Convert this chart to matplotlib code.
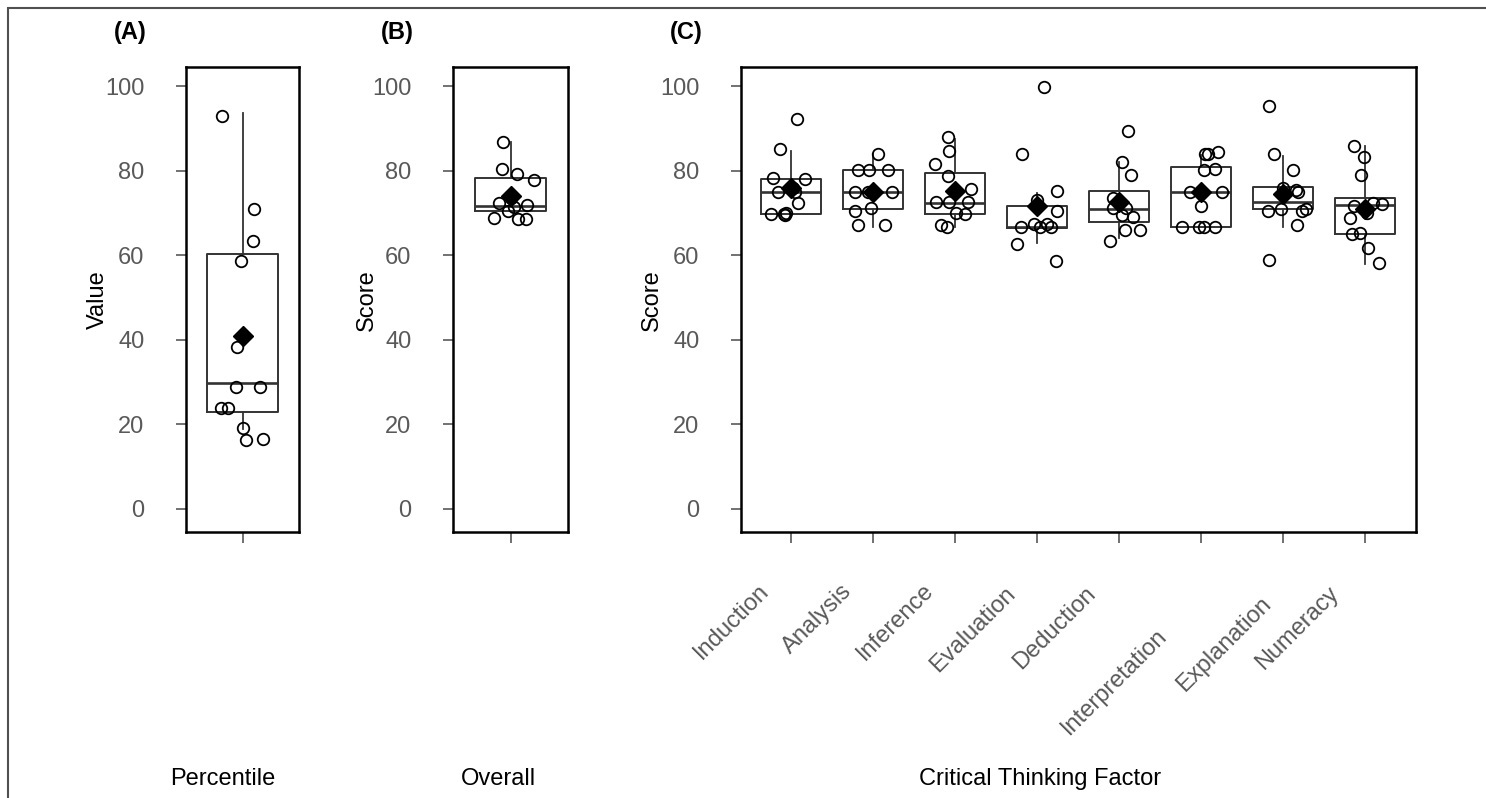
import matplotlib
matplotlib.use("Agg")
import matplotlib.pyplot as plt
from matplotlib.patches import Rectangle
from matplotlib.transforms import ScaledTranslation

plt.rcParams['font.family'] = ['Liberation Sans', 'DejaVu Sans']

# ---------------- data ----------------
# Panel A: Percentile
pct_vals = [92.9, 71.0, 63.4, 58.6, 38.4, 28.9, 28.9, 23.9, 23.9, 19.2, 16.2, 16.6]
pct_jit = [-0.29, 0.16, 0.15, -0.02, -0.08, -0.09, 0.25, -0.31, -0.21, 0.0, 0.05, 0.29]
pct_box = dict(q1=23.0, med=29.7, q3=60.4, whislo=19.0, whishi=93.7, mean=40.8)

# Panel B: Overall
ovr_vals = [86.9, 80.5, 79.2, 77.9, 72.4, 72.0, 70.5, 68.9, 68.7, 68.7, 73.5, 71.5]
ovr_jit = [-0.11, -0.12, 0.09, 0.32, -0.16, 0.23, -0.04, -0.23, 0.11, 0.21, 0.0, 0.05]
ovr_box = dict(q1=70.5, med=71.8, q3=78.4, whislo=70.5, whishi=86.9, mean=74.0)

# Panel C: Critical thinking factors
factors = ["Induction", "Analysis", "Inference", "Evaluation", "Deduction",
           "Interpretation", "Explanation", "Numeracy"]
fac_q1 = [69.9, 71.0, 69.8, 66.5, 67.9, 66.7, 70.9, 65.1]
fac_med = [74.9, 74.9, 72.5, 66.8, 70.9, 74.9, 72.6, 72.0]
fac_q3 = [78.0, 80.2, 79.6, 71.8, 75.3, 80.9, 76.2, 73.7]
fac_whislo = [69.9, 66.8, 66.8, 63.0, 64.1, 66.7, 66.8, 58.0]
fac_whishi = [84.7, 84.0, 87.5, 74.7, 82.2, 83.8, 83.6, 86.0]
fac_mean = [75.9, 75.0, 75.3, 71.6, 72.7, 75.1, 74.6, 71.0]

induction = [92.4, 85.1, 78.3, 78.0, 74.9, 72.5, 69.8, 69.8, 70.0, 76.0, 75.0, 69.5]
induction_jit = [0.07, -0.13, -0.22, 0.17, -0.16, 0.08, -0.25, -0.09, -0.06, 0.02, 0.05, -0.07]
analysis = [84.0, 80.2, 80.2, 80.2, 74.9, 74.9, 74.9, 70.6, 71.2, 67.3, 67.3, 75.0]
analysis_jit = [0.06, -0.18, -0.05, 0.18, -0.22, -0.06, 0.23, -0.22, -0.02, -0.18, 0.15, 0.0]
inference = [88.1, 84.8, 81.7, 78.7, 75.7, 72.7, 72.7, 72.7, 70.1, 69.8, 67.3, 66.8]
inference_jit = [-0.09, -0.08, -0.24, -0.09, 0.20, -0.23, -0.08, 0.16, 0.01, 0.12, -0.17, -0.10]
evaluation = [99.8, 84.0, 75.3, 70.6, 66.8, 67.4, 66.8, 67.4, 66.8, 62.6, 58.6, 73.0]
evaluation_jit = [0.09, -0.18, 0.24, 0.24, -0.20, -0.04, 0.03, 0.12, 0.17, -0.24, 0.23, 0.0]
deduction = [89.4, 82.2, 79.1, 73.7, 71.2, 71.2, 69.2, 65.9, 65.9, 63.3, 72.5, 69.5]
deduction_jit = [0.11, 0.03, 0.15, -0.08, -0.08, 0.09, 0.17, 0.07, 0.25, -0.11, 0.0, 0.03]
interpretation = [84.0, 84.0, 84.4, 80.2, 80.5, 74.9, 74.9, 71.6, 66.8, 66.8, 66.8, 66.8]
interpretation_jit = [0.05, 0.08, 0.21, 0.03, 0.17, -0.13, 0.26, 0.0, -0.23, -0.02, 0.04, 0.17]
explanation = [95.4, 84.0, 80.1, 75.4, 74.9, 70.6, 71.0, 70.6, 71.0, 67.3, 58.9, 76.0]
explanation_jit = [-0.17, -0.11, 0.12, 0.16, 0.18, -0.19, -0.02, 0.23, 0.28, 0.17, -0.17, 0.0]
numeracy = [85.8, 83.4, 79.1, 71.8, 72.4, 72.2, 68.8, 65.1, 65.4, 61.7, 58.3, 70.0]
numeracy_jit = [-0.14, -0.02, -0.05, -0.13, 0.10, 0.20, -0.18, -0.16, -0.06, 0.04, 0.17, 0.02]

fac_vals = [induction, analysis, inference, evaluation, deduction,
            interpretation, explanation, numeracy]
fac_jit = [induction_jit, analysis_jit, inference_jit, evaluation_jit, deduction_jit,
           interpretation_jit, explanation_jit, numeracy_jit]

y_ticks = [0, 20, 40, 60, 80, 100]

# ---------------- figure ----------------
W, H = 1486, 798
fig = plt.figure(figsize=(W / 100, H / 100), dpi=100)

def fx(px):
    return px / W

def fy(py):
    return 1 - py / H

BOX_C = '#333333'
TICK_C = '#595959'
FS = 17

def make_ax(left, right, top=67, bottom=532):
    ax = fig.add_axes([fx(left), fy(bottom), fx(right - left), (bottom - top) / H])
    ax.set_ylim(-5.5, 104.6)
    ax.set_yticks(y_ticks)
    ax.tick_params(axis='y', length=7, width=1.2, color=TICK_C, labelcolor=TICK_C,
                   labelsize=FS, pad=23)
    ax.tick_params(axis='x', length=8, width=1.2, color=TICK_C, labelcolor=TICK_C,
                   labelsize=FS)
    for s in ax.spines.values():
        s.set_linewidth(1.8)
        s.set_color('black')
    return ax

def draw(ax, positions, stats, vals_list, jit_list, means, width):
    bstats = []
    for st in stats:
        bstats.append(dict(q1=st['q1'], med=st['med'], q3=st['q3'],
                           whislo=st['whislo'], whishi=st['whishi'], fliers=[]))
    ax.bxp(bstats, positions=positions, widths=width, showcaps=False,
           showfliers=False, patch_artist=False,
           boxprops=dict(color=BOX_C, linewidth=1.4),
           medianprops=dict(color=BOX_C, linewidth=1.9),
           whiskerprops=dict(color=BOX_C, linewidth=1.3), manage_ticks=False,
           zorder=2)
    for p, vals, jit in zip(positions, vals_list, jit_list):
        ax.plot([p + j for j in jit], vals, linestyle='none', marker='o',
                markersize=8.3, markerfacecolor='none', markeredgecolor='black',
                markeredgewidth=1.3, zorder=3)
    ax.plot(positions, means, linestyle='none', marker='D', markersize=10,
            color='black', zorder=4)

# Panel A
axA = make_ax(186, 299)
axA.set_xlim(-0.8, 0.8)
draw(axA, [0], [pct_box], [pct_vals], [pct_jit], [pct_box['mean']], 1.0)
axA.set_xticks([0])
axA.set_xticklabels([''])

# Panel B
axB = make_ax(453, 568)
axB.set_xlim(-0.8, 0.8)
draw(axB, [0], [ovr_box], [ovr_vals], [ovr_jit], [ovr_box['mean']], 1.0)
axB.set_xticks([0])
axB.set_xticklabels([''])

# Panel C
axC = make_ax(741, 1416)
n = len(factors)
pos = list(range(n))
axC.set_xlim(-0.61, n - 1 + 0.62)
cstats = [dict(q1=a, med=b, q3=c, whislo=d, whishi=e)
          for a, b, c, d, e in zip(fac_q1, fac_med, fac_q3, fac_whislo, fac_whishi)]
draw(axC, pos, cstats, fac_vals, fac_jit, fac_mean, 0.74)
axC.set_xticks(pos)
axC.set_xticklabels(factors, rotation=45, ha='right', va='center',
                    rotation_mode='anchor')
axC.tick_params(axis='x', pad=14)
# per-label offsets (inches) to follow the reference placement
lab_dx = [-0.25, -0.25, -0.25, -0.25, -0.27, -0.37, -0.15, -0.30]
lab_dy = [-0.25, -0.25, -0.25, -0.28, -0.28, -0.70, -0.38, -0.28]
for lab, dx, dy in zip(axC.get_xticklabels(), lab_dx, lab_dy):
    lab.set_transform(lab.get_transform() + ScaledTranslation(dx, dy, fig.dpi_scale_trans))

# Texts
fig.text(fx(130), fy(33), '(A)', fontsize=FS, fontweight='bold', ha='center', va='center')
fig.text(fx(397), fy(33), '(B)', fontsize=FS, fontweight='bold', ha='center', va='center')
fig.text(fx(686), fy(33), '(C)', fontsize=FS, fontweight='bold', ha='center', va='center')

fig.text(fx(98), fy(300), 'Value', fontsize=FS, rotation=90, ha='center', va='center')
fig.text(fx(367), fy(300), 'Score', fontsize=FS, rotation=90, ha='center', va='center')
fig.text(fx(652), fy(300), 'Score', fontsize=FS, rotation=90, ha='center', va='center')

fig.text(fx(223), fy(779), 'Percentile', fontsize=FS, ha='center', va='center')
fig.text(fx(498), fy(779), 'Overall', fontsize=FS, ha='center', va='center')
fig.text(fx(1040), fy(779), 'Critical Thinking Factor', fontsize=FS, ha='center', va='center')

# Outer frame (top and left visible)
fig.patches.append(Rectangle((fx(8), -0.2), 1.5, fy(8) + 0.2, transform=fig.transFigure,
                             fill=False, edgecolor='#505050', linewidth=1.5))

fig.savefig('out.png', dpi=100)
